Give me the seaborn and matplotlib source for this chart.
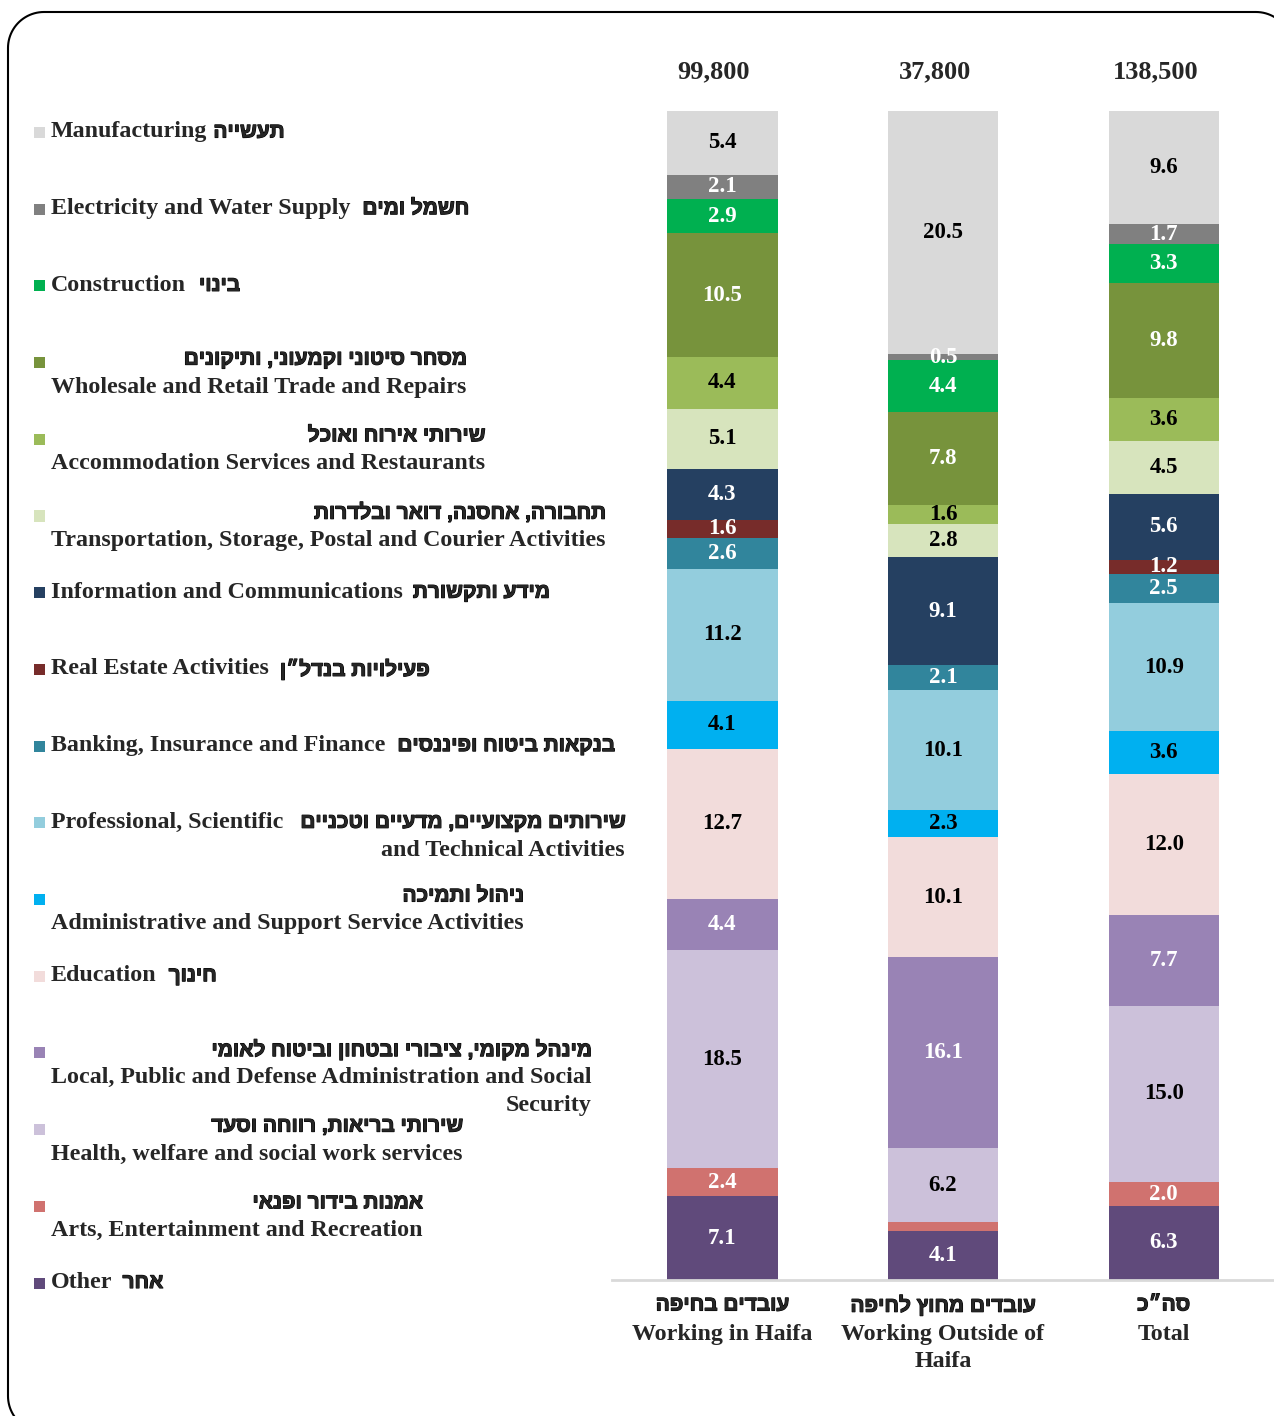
import matplotlib
matplotlib.use("Agg")
import matplotlib.pyplot as plt
import matplotlib.patheffects as pe
from matplotlib.patches import Rectangle
from matplotlib.lines import Line2D
from matplotlib import font_manager
from matplotlib.ft2font import FT2Font
import numpy as np
import pandas as pd
import seaborn as sns

# ---------------- data ----------------
industries_en = [
    "Manufacturing",
    "Electricity and Water Supply",
    "Construction",
    "Wholesale and Retail Trade and Repairs",
    "Accommodation Services and Restaurants",
    "Transportation, Storage, Postal and Courier Activities",
    "Information and Communications",
    "Real Estate Activities",
    "Banking, Insurance and Finance",
    "Professional, Scientific\nand Technical Activities",
    "Administrative and Support Service Activities",
    "Education",
    "Local, Public and Defense Administration and Social\nSecurity",
    "Health, welfare and social work services",
    "Arts, Entertainment and Recreation",
    "Other",
]
industries_he = [
    "תעשייה",
    "חשמל ומים",
    "בינוי",
    "מסחר סיטוני וקמעוני, ותיקונים",
    "שירותי אירוח ואוכל",
    "תחבורה, אחסנה, דואר ובלדרות",
    "מידע ותקשורת",
    "פעילויות בנדל״ן",
    "בנקאות ביטוח ופיננסים",
    "שירותים מקצועיים, מדעיים וטכניים",
    "ניהול ותמיכה",
    "חינוך",
    "מינהל מקומי, ציבורי ובטחון וביטוח לאומי",
    "שירותי בריאות, רווחה וסעד",
    "אמנות בידור ופנאי",
    "אחר",
]
categories_en = ["Working in Haifa", "Working Outside of\nHaifa", "Total"]
categories_he = ["עובדים בחיפה", "עובדים מחוץ לחיפה", "סה״כ"]
employed = [99800, 37800, 138500]

working_in_haifa = [5.4, 2.1, 2.9, 10.5, 4.4, 5.1, 4.3, 1.6, 2.6, 11.2, 4.1, 12.7, 4.4, 18.5, 2.4, 7.1]
working_outside = [20.5, 0.5, 4.4, 7.8, 1.6, 2.8, 9.1, 0.0, 2.1, 10.1, 2.3, 10.1, 16.1, 6.2, 0.8, 4.1]
total = [9.6, 1.7, 3.3, 9.8, 3.6, 4.5, 5.6, 1.2, 2.5, 10.9, 3.6, 12.0, 7.7, 15.0, 2.0, 6.3]

# segments whose value label is not shown in the original (column, industry)
unlabelled = {(1, 7), (1, 14)}

# ---------------- style ----------------
colors = ["#D9D9D9", "#808080", "#00B050", "#77933C", "#9BBB59", "#D7E4BD",
          "#254061", "#772C2A", "#31859C", "#93CDDD", "#00B0F0", "#F2DCDB",
          "#9983B5", "#CCC1DA", "#D0726F", "#604A7B"]
white_label = [False, True, True, True, False, False, True, True, True, False,
               False, False, True, False, True, True]

W, H = 1274, 1416
ENG_FONT = ["Liberation Serif", "DejaVu Serif"]


def pick_hebrew_font(candidates):
    for fam in candidates:
        try:
            path = font_manager.findfont(
                font_manager.FontProperties(family=fam, weight="bold"),
                fallback_to_default=False)
            if FT2Font(path).get_char_index(ord("א")) != 0:
                return fam
        except Exception:
            continue
    return "DejaVu Sans"


HEB_FONT = [pick_hebrew_font(["Liberation Sans", "Open Sans", "DejaVu Sans"]),
            "Liberation Sans", "DejaVu Sans"]
HEB_BOLD = [pe.withStroke(linewidth=0.8, foreground="black")]

sns.set_style("white")
plt.rcParams["font.family"] = ENG_FONT


def visual(s):
    # right-to-left text in visual (left-to-right) order
    return s[::-1]


fig = plt.figure(figsize=(W / 100, H / 100), dpi=100)
fig.patch.set_facecolor("white")

ax = fig.add_axes([612 / W, 1 - 1280 / H, 662 / W, (1280 - 111) / H])

values = np.array([working_in_haifa, working_outside, total])  # (3, 16)
shares = values / values.sum(axis=1, keepdims=True) * 100

n_ind = len(industries_en)
bottom = np.zeros(3)
for j in reversed(range(n_ind)):
    df = pd.DataFrame({"category": categories_en, "share": shares[:, j]})
    sns.barplot(data=df, x="category", y="share", order=categories_en,
                color=colors[j], saturation=1, width=0.5, errorbar=None,
                linewidth=0, bottom=bottom.copy(), ax=ax)
    for i in range(3):
        if (i, j) in unlabelled:
            continue
        ax.text(i, bottom[i] + shares[i, j] / 2, f"{values[i, j]:.1f}",
                ha="center", va="center", fontsize=16.5, fontweight="bold",
                color="white" if white_label[j] else "black", family=ENG_FONT)
    bottom = bottom + shares[:, j]

ax.set_xlim(-0.5, 2.5)
ax.set_ylim(0, 100)
ax.set_yticks([])
ax.set_xlabel("")
ax.set_ylabel("")
for s in ["top", "right", "left"]:
    ax.spines[s].set_visible(False)
ax.spines["bottom"].set_color("#D9D9D9")
ax.spines["bottom"].set_linewidth(2)

ax.set_xticks(range(3))
ax.set_xticklabels(categories_en, fontsize=17.3, fontweight="bold",
                   family=ENG_FONT, linespacing=1.4)
ax.set_xticks([-0.5, 0.5, 1.5, 2.5], minor=True)
ax.tick_params(axis="x", which="major", length=0, pad=31.5)
ax.tick_params(axis="x", which="minor", length=7, width=2, color="#D9D9D9")

for i in range(3):
    ax.annotate(visual(categories_he[i]), xy=(i, 0), xycoords=("data", "axes fraction"),
                xytext=(0, -18), textcoords="offset points", ha="center", va="center",
                fontsize=15, fontweight="bold", family=HEB_FONT, path_effects=HEB_BOLD)
    ax.annotate(f"{employed[i]:,}", xy=(i, 1), xycoords=("data", "axes fraction"),
                xytext=(-6, 28), textcoords="offset points", ha="center", va="center",
                fontsize=19, fontweight="bold", family=ENG_FONT)

# ---------------- legend (bilingual) ----------------
heb_above = [False, False, False, True, True, True, False, False, False, False,
             True, False, True, True, True, False]
heb_gap = [6, 12, 13, 0, 0, 0, 10, 11, 12, 17, 0, 12, 0, 0, 0, 10]
Y_FIRST, Y_STEP, LINE = 132, 76.7, 28
renderer = fig.canvas.get_renderer()
eng_kw = dict(fontsize=17.3, fontweight="bold", family=ENG_FONT, va="center")
heb_kw = dict(fontsize=15, fontweight="bold", family=HEB_FONT, va="center",
              path_effects=HEB_BOLD)

for j in range(n_ind):
    y0 = Y_FIRST + Y_STEP * j
    fig.add_artist(Rectangle((34 / W, 1 - (y0 + 6) / H), 11 / W, 11 / H,
                             transform=fig.transFigure, facecolor=colors[j],
                             edgecolor="none"))
    eng_lines = industries_en[j].split("\n")
    heb = visual(industries_he[j])
    hy = y0 - 3 if heb_above[j] else y0
    ey = hy + LINE if heb_above[j] else y0
    t0 = fig.text(51 / W, 1 - ey / H, eng_lines[0], ha="left", **eng_kw)
    right = t0.get_window_extent(renderer=renderer).x1
    if heb_above[j]:
        fig.text(right / W, 1 - hy / H, heb, ha="right", **heb_kw)
    else:
        th = fig.text((right + heb_gap[j]) / W, 1 - hy / H, heb, ha="left", **heb_kw)
        right = th.get_window_extent(renderer=renderer).x1
    for k, line in enumerate(eng_lines[1:], start=1):
        fig.text(right / W, 1 - (ey + LINE * k) / H, line, ha="right", **eng_kw)


# rounded frame (right and bottom edges run off the canvas, as in the original)
def rounded_frame(x0, y0, x1, y1, r, n=24):
    pts = []
    corners = [(x1 - r, y0 + r, -90, 0), (x1 - r, y1 - r, 0, 90),
               (x0 + r, y1 - r, 90, 180), (x0 + r, y0 + r, 180, 270)]
    for cx, cy, a0, a1 in corners:
        ang = np.radians(np.linspace(a0, a1, n))
        pts += list(zip(cx + r * np.cos(ang), cy + r * np.sin(ang)))
    pts.append(pts[0])
    xs, ys = np.array(pts).T
    return xs / W, 1 - ys / H


fx, fy = rounded_frame(8, 12, 1292, 1432, 36)
fig.add_artist(Line2D(fx, fy, transform=fig.transFigure, color="black",
                      linewidth=1.5, solid_joinstyle="round"))

fig.savefig("out.png", dpi=100)
